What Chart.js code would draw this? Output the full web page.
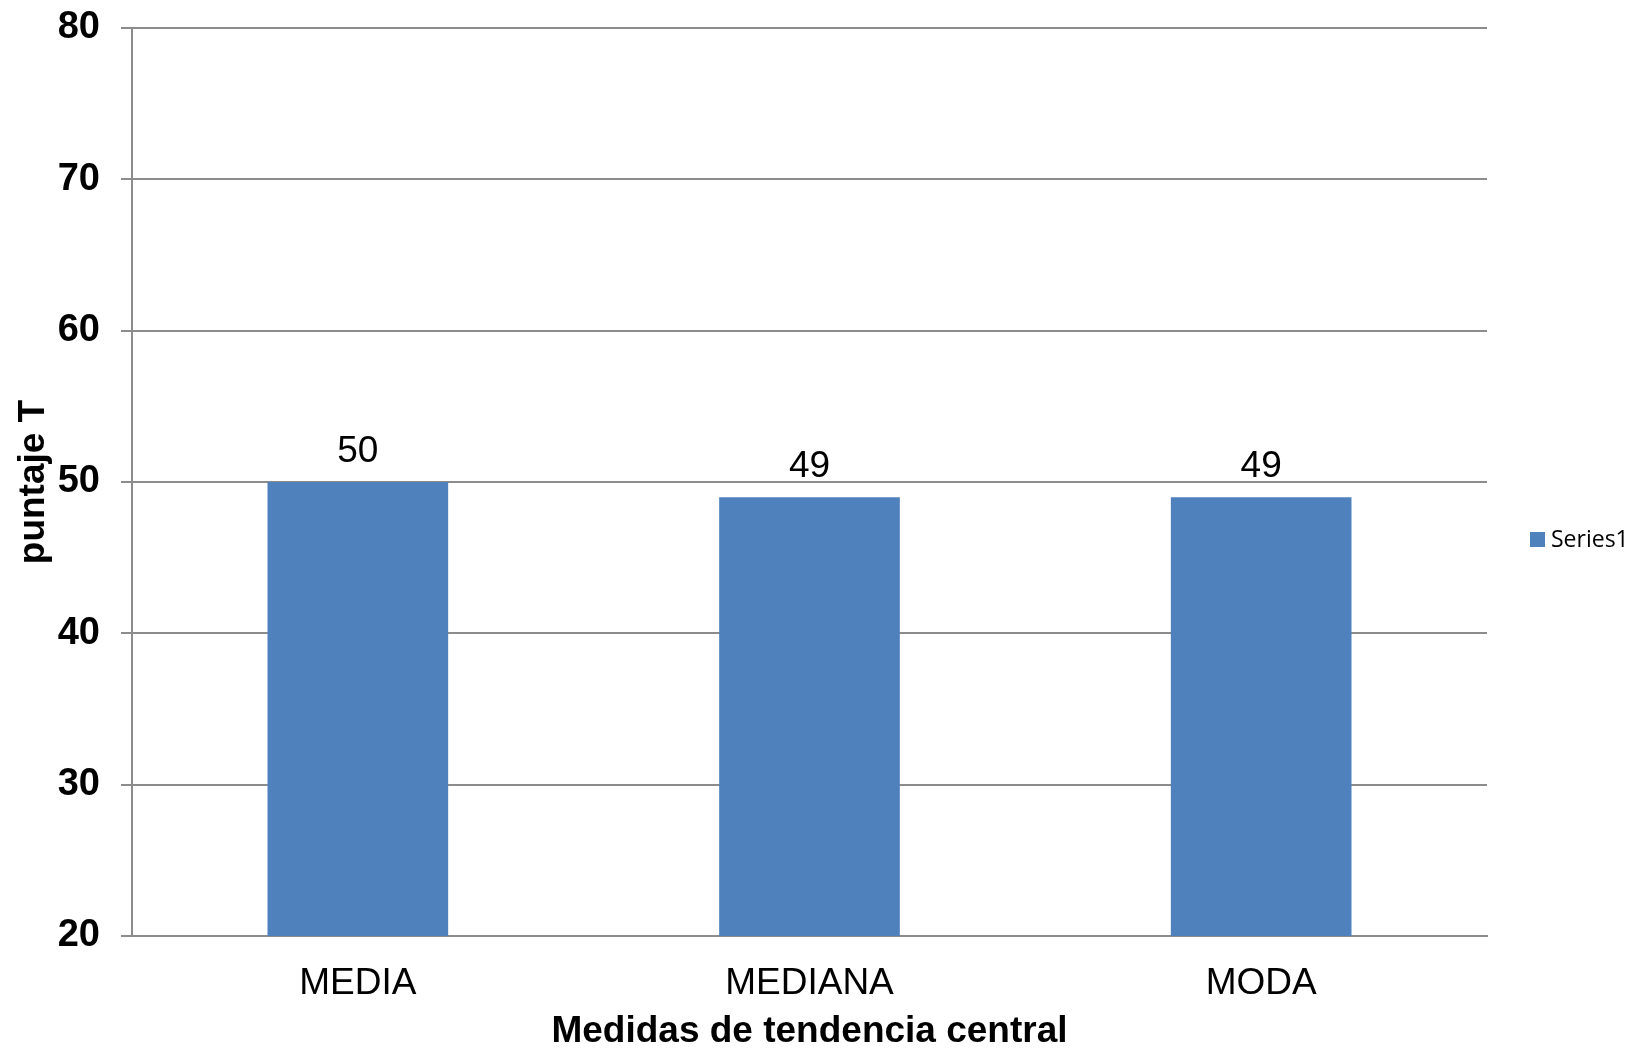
<!DOCTYPE html>
<html>
<head>
<meta charset="utf-8">
<script src="https://cdn.jsdelivr.net/npm/chart.js"></script>
<style>
    html, body { margin: 0; padding: 0; background: #fff; }
    #wrap { width: 1633px; height: 1049px; }
</style>
</head>
<body>
<div id="wrap"><canvas id="chart" width="1633" height="1049"></canvas></div>
<script>
// datos
const categorias = ['MEDIA', 'MEDIANA', 'MODA'];
const puntajes = [50, 49, 49];
const serieNombre = 'Series1';

const AZUL = '#4f81bd';
const GRIS = '#8c8c8c';
const ARIAL = '"Liberation Sans", Arial, sans-serif';

// etiqueta de valor encima de cada barra
const valoresPlugin = {
    id: 'valores',
    afterDatasetsDraw(chart) {
        const ctx = chart.ctx;
        const meta = chart.getDatasetMeta(0);
        ctx.save();
        ctx.font = '37px ' + ARIAL;
        ctx.fillStyle = '#000';
        ctx.textAlign = 'center';
        ctx.textBaseline = 'alphabetic';
        meta.data.forEach((bar, i) => {
            ctx.fillText(String(chart.data.datasets[0].data[i]), bar.x, bar.y - 20);
        });
        ctx.restore();
    }
};

// leyenda a la derecha
const leyendaPlugin = {
    id: 'leyenda',
    afterDraw(chart) {
        const ctx = chart.ctx;
        const ds = chart.data.datasets[0];
        ctx.save();
        ctx.fillStyle = ds.backgroundColor;
        ctx.fillRect(1530, 532, 15, 15);
        ctx.fillStyle = '#000';
        ctx.font = '23px "Open Sans", "Noto Sans", sans-serif';
        ctx.textAlign = 'left';
        ctx.textBaseline = 'middle';
        ctx.fillText(ds.label, 1551, 540);
        ctx.restore();
    }
};

new Chart(document.getElementById('chart'), {
    type: 'bar',
    data: {
        labels: categorias,
        datasets: [{
            label: serieNombre,
            data: puntajes,
            backgroundColor: AZUL,
            borderWidth: 0,
            barPercentage: 0.4,
            categoryPercentage: 1.0
        }]
    },
    options: {
        responsive: false,
        animation: false,
        layout: { padding: { top: 28, right: 146, left: 0, bottom: 0 } },
        plugins: {
            legend: { display: false },
            tooltip: { enabled: false }
        },
        scales: {
            x: {
                grid: { display: false },
                border: { display: true, color: GRIS, width: 2 },
                ticks: {
                    color: '#000',
                    padding: 18,
                    font: { family: ARIAL, size: 37 }
                },
                title: {
                    display: true,
                    text: 'Medidas de tendencia central',
                    color: '#000',
                    padding: { top: 0, bottom: -5 },
                    font: { family: ARIAL, size: 37, weight: 'bold' }
                },
                afterFit(scale) { scale.height = 113; }
            },
            y: {
                min: 20,
                max: 80,
                ticks: {
                    stepSize: 10,
                    color: '#000',
                    padding: 21,
                    font: { family: ARIAL, size: 38, weight: 'bold' }
                },
                grid: { color: GRIS, lineWidth: 2, drawTicks: true, tickLength: 11 },
                border: { display: true, color: GRIS, width: 2 },
                title: {
                    display: true,
                    text: 'puntaje T',
                    color: '#000',
                    padding: { top: 12, bottom: 0 },
                    font: { family: ARIAL, size: 37, weight: 'bold' }
                },
                afterFit(scale) {
                    scale.width = 132;
                    // el área del gráfico llega hasta el borde, sin reservar medio rótulo
                    scale.paddingTop = 0;
                    scale.paddingBottom = 0;
                }
            }
        }
    },
    plugins: [valoresPlugin, leyendaPlugin]
});
</script>
</body>
</html>
